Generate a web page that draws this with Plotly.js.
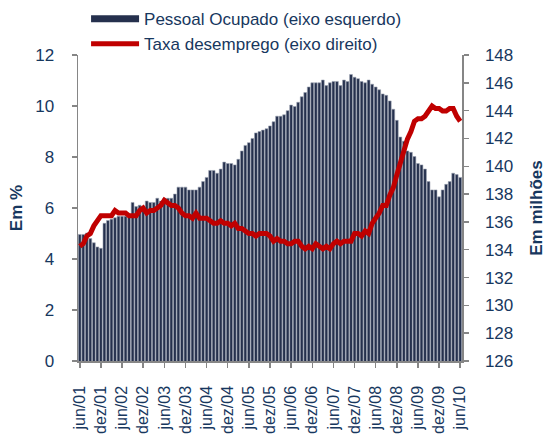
<!DOCTYPE html>
<html>
<head>
<meta charset="utf-8">
<script src="https://cdn.plot.ly/plotly-3.0.1.min.js"></script>
<style>
  body { margin: 0; background: #fff; }
  #chart { width: 553px; height: 436px; }
</style>
</head>
<body>
<div id="chart"></div>
<script>
// monthly categories, jun/01 .. jun/10
const monthNames = ['jan', 'fev', 'mar', 'abr', 'mai', 'jun', 'jul', 'ago', 'set', 'out', 'nov', 'dez'];
const months = [];
for (let i = 0; i < 109; i++) {
    const m = (5 + i) % 12;
    const yy = 1 + Math.floor((5 + i) / 12);
    months.push(monthNames[m] + '/' + (yy < 10 ? '0' + yy : '' + yy));
}
// labelled every 6 months
const tickMonths = months.filter((m, i) => i % 6 === 0);

// employed persons, millions (bars, right-hand scale)
const employed = [
    135.1, 135.1, 135.2, 134.8, 134.5, 134.2, 134.1,
    135.9, 136.1, 136.2, 136.3, 136.4, 136.4, 136.4, 136.5, 137.4, 137.1, 137.2, 137.1,
    137.5, 137.4, 137.4, 137.7, 137.5, 137.7, 137.7, 137.7, 138.0, 138.5, 138.5, 138.5,
    138.3, 138.3, 138.3, 138.5, 138.9, 139.2, 139.7, 139.7, 139.5, 139.8, 140.3, 140.2,
    140.2, 140.1, 140.5, 141.1, 141.5, 141.7, 142.0, 142.4, 142.5, 142.6, 142.7, 142.9,
    143.2, 143.6, 143.6, 143.7, 144.0, 144.4, 144.3, 144.6, 145.0, 145.3, 145.7, 146.0,
    146.0, 146.0, 146.2, 145.8, 146.0, 146.1, 146.1, 145.8, 146.2, 146.1, 146.6, 146.4,
    146.3, 146.1, 146.0, 146.2, 145.9, 145.7, 145.5, 145.2, 145.1, 144.7, 144.1, 143.3,
    142.1, 141.8, 141.1, 141.0, 140.7, 140.2, 140.1, 139.8, 138.9, 138.3, 138.3, 137.8,
    138.3, 138.7, 138.9, 139.5, 139.4, 139.2
];

// unemployment rate, % (line, left-hand scale)
const unemployment = [
    4.5, 4.6, 4.9, 5.0, 5.3, 5.5, 5.7,
    5.7, 5.7, 5.7, 5.9, 5.8, 5.8, 5.8, 5.7, 5.7, 5.7, 5.9, 6.0,
    5.8, 5.9, 5.9, 6.0, 6.1, 6.3, 6.2, 6.1, 6.1, 6.0, 5.8, 5.7,
    5.7, 5.6, 5.8, 5.6, 5.6, 5.6, 5.5, 5.4, 5.4, 5.5, 5.4, 5.4,
    5.3, 5.4, 5.2, 5.2, 5.1, 5.0, 5.0, 4.9, 5.0, 5.0, 5.0, 4.9,
    4.7, 4.8, 4.7, 4.7, 4.6, 4.6, 4.7, 4.7, 4.5, 4.4, 4.5, 4.4,
    4.6, 4.5, 4.4, 4.5, 4.4, 4.6, 4.7, 4.6, 4.7, 4.7, 4.7, 5.0,
    5.0, 4.9, 5.1, 5.0, 5.4, 5.6, 5.8, 6.1, 6.1, 6.5, 6.8, 7.3,
    7.8, 8.3, 8.7, 9.0, 9.4, 9.5, 9.5, 9.6, 9.8, 10.0, 9.9, 9.9,
    9.8, 9.8, 9.9, 9.9, 9.6, 9.4
];

const navy = '#17375E';
const barColor = '#25304d';
const lineColor = '#C00000';
const axisGray = '#868686';
const font = 'Liberation Sans, Arial, sans-serif';

// bars on the primary axis (drawn right), line on the overlaying axis so it sits on top
const traceBars = {
    x: months, y: employed,
    type: 'bar',
    yaxis: 'y',
    marker: {color: barColor, line: {color: '#9ca3b1', width: 0.6}},
    showlegend: false,
    hoverinfo: 'x+y'
};
// legend-only entry so the swatch is a wide band like the original
const legendBars = {
    x: [null], y: [null],
    type: 'scatter', mode: 'lines',
    line: {color: barColor, width: 7},
    name: 'Pessoal Ocupado (eixo esquerdo)'
};
const traceRate = {
    x: months, y: unemployment,
    type: 'scatter', mode: 'lines',
    yaxis: 'y2',
    line: {color: lineColor, width: 5},
    name: 'Taxa desemprego (eixo direito)'
};

const layout = {
    width: 553, height: 436,
    // fixed margins: the legend sits above the plot without pushing it down
    margin: {l: 78, r: 91, t: 55, b: 75, autoexpand: false},
    paper_bgcolor: '#fff', plot_bgcolor: 'rgba(0,0,0,0)',
    font: {family: font, size: 17, color: navy},
    bargap: 0.2,
    showlegend: true,
    legend: {
        x: 0.021, y: 1.176, xanchor: 'left', yanchor: 'top',
        bgcolor: 'rgba(0,0,0,0)', borderwidth: 0,
        font: {family: font, size: 17, color: navy},
        itemwidth: 48, tracegroupgap: 0
    },
    xaxis: {
        type: 'category',
        tickmode: 'array', tickvals: tickMonths, ticktext: tickMonths,
        tickangle: -90,
        ticks: 'outside', ticklen: 5, tickcolor: axisGray, tickwidth: 1.5,
        ticklabelstandoff: 12,
        showline: true, linecolor: axisGray, linewidth: 1.5,
        showgrid: false, zeroline: false,
        tickfont: {family: font, size: 16, color: navy}
    },
    // right-hand scale, millions
    yaxis: {
        range: [126, 148], dtick: 2,
        side: 'right',
        ticks: 'outside', ticklen: 5, tickcolor: axisGray, tickwidth: 1.5,
        ticklabelstandoff: 13,
        showline: true, linecolor: axisGray, linewidth: 1.5,
        showgrid: false, zeroline: false,
        tickfont: {family: font, size: 17, color: navy},
        title: {text: '<b>Em milhões</b>', standoff: 18, font: {family: font, size: 17, color: navy}}
    },
    // left-hand scale, %
    yaxis2: {
        range: [0, 12], dtick: 2,
        overlaying: 'y', side: 'left',
        ticks: 'outside', ticklen: 5, tickcolor: axisGray, tickwidth: 1.5,
        ticklabelstandoff: 14,
        showline: true, linecolor: axisGray, linewidth: 1.5,
        showgrid: false, zeroline: false,
        tickfont: {family: font, size: 17, color: navy},
        title: {text: '<b>Em %</b>', standoff: 8, font: {family: font, size: 17, color: navy}}
    }
};

Plotly.newPlot('chart', [traceBars, legendBars, traceRate], layout, {displayModeBar: false, staticPlot: true});
</script>
</body>
</html>
